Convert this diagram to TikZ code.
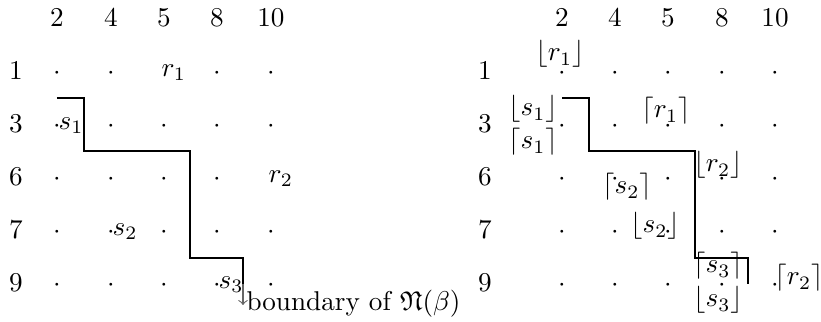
\documentclass[tikz,border=0pt]{standalone}
\usepackage{amssymb}
\begin{document}
\begin{tikzpicture}[x=0.368pt,y=-0.368pt,
  hd/.style={anchor=base,inner sep=0pt},
  pt/.style={anchor=base,inner sep=0pt},
  tag/.style={anchor=west,inner sep=0pt},
  brk/.style={anchor=base,inner sep=0pt},
  stair/.style={line width=0.4pt},
  note/.style={->,black!60}]
\useasboundingbox (0,0) rectangle (821,322);
% ---------- left grid ----------
\foreach \n/\x in {2/57,4/111,5/164,8/217,10/271}
  \node[hd] (LH\n) at (\x,27) {$\n$};
\foreach \n/\y in {1/80,3/133,6/186,7/239,9/292}
  \node[hd] (LR\n) at (16,\y) {$\n$};
\foreach \c/\x in {a/57,b/111,c/164,d/217,e/271}
  \foreach \r/\y in {1/80,3/133,6/186,7/239,9/292}
  {\ifnum\pdfstrcmp{\c\r}{c1}=0 \else\ifnum\pdfstrcmp{\c\r}{e6}=0 \else
     \node[pt] (L\c\r) at (\x,\y) {$\cdot$};\fi\fi}
\node[tag] (Lr1) at (161,73) {$r_1$};
\node[tag] (Ls1) at (58,126) {$s_1$};
\node[tag] (Lr2) at (268,179) {$r_2$};
\node[tag] (Ls2) at (112,232) {$s_2$};
\node[tag] (Ls3) at (218,285) {$s_3$};
\coordinate (LA) at (57,98);
\coordinate (LB) at (84,98);
\coordinate (LC) at (84,151);
\coordinate (LD) at (190,151);
\coordinate (LE) at (190,258);
\coordinate (LF) at (243,258);
\coordinate (LG) at (243,284);
\coordinate (LT) at (243,305);
\draw[stair] (LA) -- (LB) -- (LC) -- (LD) -- (LE) -- (LF) -- (LG);
\draw[note] (LG) -- (LT);
\node[anchor=base west,inner sep=0pt] (Lnote) at (246,311) {boundary of $\mathfrak{N}(\beta)$};
% ---------- right grid ----------
\foreach \n/\x in {2/562,4/615,5/668,8/722,10/775}
  \node[hd] (RH\n) at (\x,27) {$\n$};
\foreach \n/\y in {1/80,3/133,6/186,7/239,9/292}
  \node[hd] (RR\n) at (485,\y) {$\n$};
\foreach \c/\x in {a/562,b/615,c/668,d/722,e/775}
  \foreach \r/\y in {1/80,3/133,6/186,7/239,9/292}
     \node[pt] (R\c\r) at (\x,\y) {$\cdot$};
\node[brk] (Rrf1) at (560,61) {$\lfloor r_1\rfloor$};
\node[brk] (Rsf1) at (533,116) {$\lfloor s_1\rfloor$};
\node[brk] (Rsc1) at (533,149) {$\lceil s_1\rceil$};
\node[brk] (Rrc1) at (666,118) {$\lceil r_1\rceil$};
\node[brk] (Rrf2) at (718,172) {$\lfloor r_2\rfloor$};
\node[brk] (Rsc2) at (627,194) {$\lceil s_2\rceil$};
\node[brk] (Rsf2) at (655,233) {$\lfloor s_2\rfloor$};
\node[brk] (Rsc3) at (718,273) {$\lceil s_3\rceil$};
\node[brk] (Rsf3) at (718,307) {$\lfloor s_3\rfloor$};
\node[brk] (Rrc2) at (799,285) {$\lceil r_2\rceil$};
\coordinate (RA) at (562,98);
\coordinate (RB) at (589,98);
\coordinate (RC) at (589,151);
\coordinate (RD) at (695,151);
\coordinate (RE) at (695,258);
\coordinate (RF) at (748,258);
\coordinate (RG) at (748,284);
\draw[stair] (RA) -- (RB) -- (RC) -- (RD) -- (RE) -- (RF) -- (RG);
\end{tikzpicture}
\end{document}
